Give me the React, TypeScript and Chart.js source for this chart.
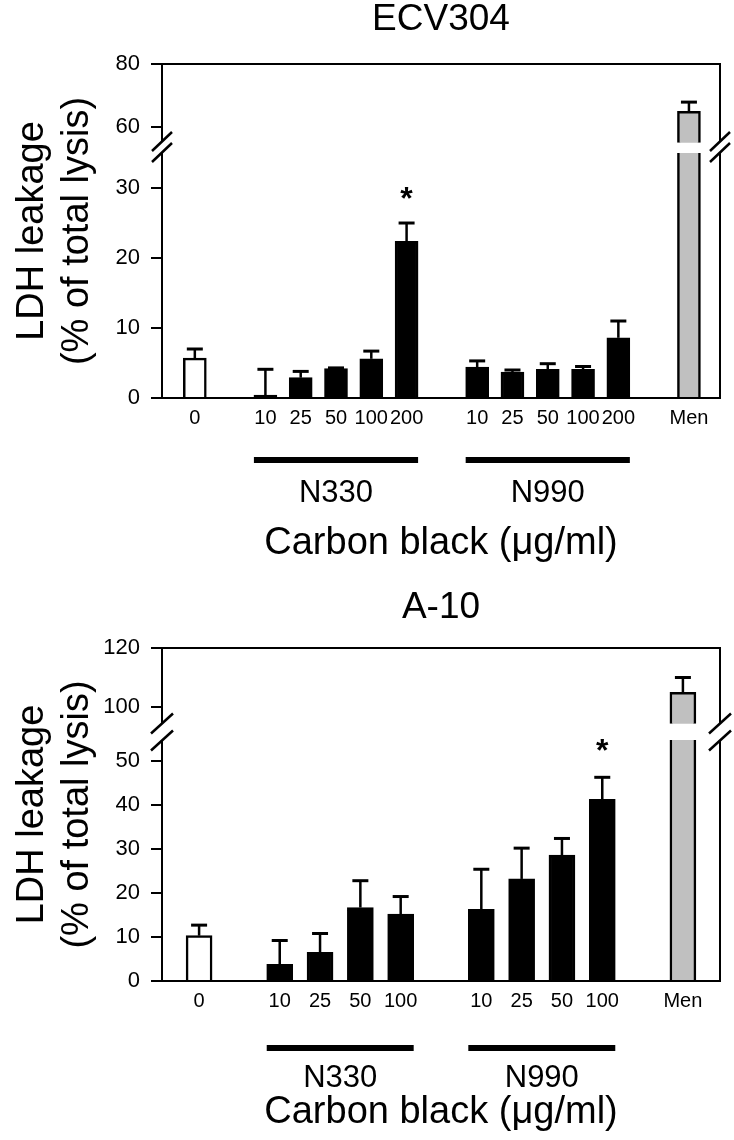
import React, { useEffect, useRef } from 'react';
import { Chart, registerables } from 'chart.js';

Chart.register(...registerables);

const FONT = '"Liberation Sans", Arial, Helvetica, sans-serif';
const GREY = '#c0c0c0';

// ---------------- Shared labels ----------------
const controlLabel = '0';
const menLabel = 'Men';
const groupNames = ['N330', 'N990'];
const xTitle = 'Carbon black (μg/ml)';
const yTitleLines = ['LDH leakage', '(% of total lysis)'];

// ---------------- ECV304 ----------------
const ecvTitle = 'ECV304';
const ecvDoses = ['10', '25', '50', '100', '200'];
const ecvControl = 5.7;
const ecvControlSem = 1.3;
const ecvN330 = [0.4, 2.9, 4.2, 5.6, 22.4];
const ecvN330Sem = [3.7, 0.9, 0.1, 1.1, 2.6];
const ecvN330Sig = [false, false, false, false, true];
const ecvN990 = [4.4, 3.7, 4.1, 4.1, 8.6];
const ecvN990Sem = [0.9, 0.3, 0.8, 0.4, 2.4];
const ecvN990Sig = [false, false, false, false, false];
const ecvMen = 65;
const ecvMenSem = 2.9;
const ecvLowerTicks = [0, 10, 20, 30];
const ecvUpperTicks = [60, 80];
const ecvLowerRange = [0, 35.86];
const ecvUpperRange = [53.65, 80];
const ecvBreakValues = [35.0, 55.0];

// ---------------- A-10 ----------------
const a10Title = 'A-10';
const a10Doses = ['10', '25', '50', '100'];
const a10Control = 10.3;
const a10ControlSem = 2.4;
const a10N330 = [3.8, 6.5, 16.7, 15.2];
const a10N330Sem = [5.4, 4.3, 6.1, 4.0];
const a10N330Sig = [false, false, false, false];
const a10N990 = [16.3, 23.2, 28.6, 41.3];
const a10N990Sem = [9.1, 7.0, 3.8, 5.0];
const a10N990Sig = [false, false, false, true];
const a10Men = 105;
const a10MenSem = 5;
const a10LowerTicks = [0, 10, 20, 30, 40, 50];
const a10UpperTicks = [100, 120];
const a10LowerRange = [0, 56.6];
const a10UpperRange = [91.5, 120];
const a10BreakValues = [54.8, 94.3];

const ecvSpec = {
  title: ecvTitle, doses: ecvDoses, control: ecvControl, controlSem: ecvControlSem,
  n330: ecvN330, n330Sem: ecvN330Sem, n330Sig: ecvN330Sig,
  n990: ecvN990, n990Sem: ecvN990Sem, n990Sig: ecvN990Sig,
  men: ecvMen, menSem: ecvMenSem, lowerTicks: ecvLowerTicks, upperTicks: ecvUpperTicks,
  lowerRange: ecvLowerRange, upperRange: ecvUpperRange, breakValues: ecvBreakValues,
};
const a10Spec = {
  title: a10Title, doses: a10Doses, control: a10Control, controlSem: a10ControlSem,
  n330: a10N330, n330Sem: a10N330Sem, n330Sig: a10N330Sig,
  n990: a10N990, n990Sem: a10N990Sem, n990Sig: a10N990Sig,
  men: a10Men, menSem: a10MenSem, lowerTicks: a10LowerTicks, upperTicks: a10UpperTicks,
  lowerRange: a10LowerRange, upperRange: a10UpperRange, breakValues: a10BreakValues,
};

// ---------------- Layout (pixels) ----------------
const ecvLayout = {
  height: 570, top: 64, boundary: 147, bottom: 398, left: 162, right: 720,
  titlePadTop: 1, xPadLeft: 0.93, xPadRight: 0.88, barThickness: 23,
  groupLineOffset: 62, groupLabelOffset: 95, xTitlePadBottom: 7, xTickPad: 8,
  breakGap: 11, breakDx: 10, breakDy: 9.5, capHalf: 8, starGap: 14,
};
const a10Layout = {
  height: 570, top: 78, boundary: 162, bottom: 411, left: 162, right: 720,
  titlePadTop: 19.5, xPadLeft: 0.92, xPadRight: 0.92, barThickness: 26,
  groupLineOffset: 67, groupLabelOffset: 97, xTitlePadBottom: 8, xTickPad: 8,
  breakGap: 17, breakDx: 11, breakDy: 10, capHalf: 8, starGap: 16,
};

const errorBarPlugin = {
  id: 'errorBars',
  afterDatasetsDraw(chart: any, _a: any, opts: any) {
    const ctx = chart.ctx;
    chart.data.datasets.forEach((ds: any, di: number) => {
      if (!ds.errors) return;
      const meta = chart.getDatasetMeta(di);
      const yScale = chart.scales[meta.yAxisID];
      meta.data.forEach((bar: any, i: number) => {
        const raw = ds.data[i];
        const v = Array.isArray(raw.y) ? raw.y[1] : raw.y;
        const e = ds.errors[i];
        const yv = yScale.getPixelForValue(v);
        const ye = yScale.getPixelForValue(v + e);
        ctx.save();
        ctx.strokeStyle = '#000';
        ctx.fillStyle = '#000';
        ctx.lineWidth = opts.lineWidth;
        ctx.beginPath();
        ctx.moveTo(bar.x, yv);
        ctx.lineTo(bar.x, ye);
        ctx.stroke();
        ctx.lineWidth = opts.capThickness;
        ctx.beginPath();
        ctx.moveTo(bar.x - opts.capHalf, ye);
        ctx.lineTo(bar.x + opts.capHalf, ye);
        ctx.stroke();
        if (ds.sig && ds.sig[i]) {
          ctx.font = `bold ${opts.starSize}px ${FONT}`;
          ctx.textAlign = 'center';
          ctx.textBaseline = 'alphabetic';
          ctx.fillText('*', bar.x, ye - opts.starGap);
        }
        ctx.restore();
      });
    });
  },
};

const frameBreakPlugin = {
  id: 'frameBreak',
  afterDraw(chart: any, _a: any, opts: any) {
    const { ctx, chartArea } = chart;
    const yb = chart.scales.y.top;
    ctx.save();
    ctx.strokeStyle = '#000';
    ctx.lineWidth = 2;
    ctx.beginPath();
    ctx.moveTo(chartArea.left, chartArea.top);
    ctx.lineTo(chartArea.right, chartArea.top);
    ctx.lineTo(chartArea.right, chartArea.bottom);
    ctx.stroke();
    const g = opts.gap / 2;
    const dx = opts.dx;
    const dy = opts.dy;
    for (const x of [chartArea.left, chartArea.right]) {
      ctx.fillStyle = '#fff';
      ctx.beginPath();
      ctx.moveTo(x - dx, yb - g + dy);
      ctx.lineTo(x + dx, yb - g - dy);
      ctx.lineTo(x + dx, yb + g - dy);
      ctx.lineTo(x - dx, yb + g + dy);
      ctx.closePath();
      ctx.fill();
      ctx.lineWidth = 2.5;
      ctx.beginPath();
      ctx.moveTo(x - dx, yb - g + dy);
      ctx.lineTo(x + dx, yb - g - dy);
      ctx.moveTo(x - dx, yb + g + dy);
      ctx.lineTo(x + dx, yb + g - dy);
      ctx.stroke();
    }
    ctx.restore();
  },
};

const groupPlugin = {
  id: 'groupLabels',
  afterDraw(chart: any, _a: any, opts: any) {
    const { ctx, chartArea } = chart;
    const xs = chart.scales.x;
    const base = chartArea.bottom;
    ctx.save();
    ctx.fillStyle = '#000';
    opts.groups.forEach((g: any) => {
      const x1 = xs.getPixelForValue(g.from) - opts.halfBar;
      const x2 = xs.getPixelForValue(g.to) + opts.halfBar;
      ctx.fillRect(x1, base + opts.lineOffset - opts.lineWidth / 2, x2 - x1, opts.lineWidth);
      ctx.font = `${opts.fontSize}px ${FONT}`;
      ctx.textAlign = 'center';
      ctx.textBaseline = 'middle';
      ctx.fillText(g.name, (x1 + x2) / 2, base + opts.labelOffset);
    });
    ctx.restore();
  },
};

const yTitlePlugin = {
  id: 'yTitle',
  afterDraw(chart: any, _a: any, opts: any) {
    const { ctx, chartArea } = chart;
    const cy = (chartArea.top + chartArea.bottom) / 2;
    ctx.save();
    ctx.fillStyle = '#000';
    ctx.font = `${opts.fontSize}px ${FONT}`;
    ctx.textAlign = 'center';
    ctx.textBaseline = 'alphabetic';
    opts.lines.forEach((t: string, i: number) => {
      ctx.save();
      ctx.translate(opts.baselines[i], cy);
      ctx.rotate(-Math.PI / 2);
      ctx.fillText(t, 0, 0);
      ctx.restore();
    });
    ctx.restore();
  },
};

function buildConfig(spec: any, L: any): any {
  const n = spec.doses.length;
  const posControl = 0;
  const posG1 = spec.doses.map((_: any, i: number) => 2 + i);
  const posG2 = spec.doses.map((_: any, i: number) => 3 + n + i);
  const posMen = 4 + 2 * n;
  const tickPositions = [posControl, ...posG1, ...posG2, posMen];
  const tickLabels = [controlLabel, ...spec.doses, ...spec.doses, menLabel];
  const labelAt = new Map(tickPositions.map((p, i) => [p, tickLabels[i]]));
  const [loBreak, hiBreak] = spec.breakValues;
  const BW = 2.5;

  const bar = (color: string) => ({
    backgroundColor: color,
    borderColor: '#000',
    borderWidth: BW,
    barThickness: L.barThickness,
    grouped: false,
  });

  const yCommon = (ticks: number[]) => ({
    type: 'linear',
    position: 'left',
    stack: 'v',
    beginAtZero: false,
    afterBuildTicks: (ax: any) => {
      ax.ticks = ticks.map((v) => ({ value: v }));
    },
    grid: { display: true, drawOnChartArea: false, drawTicks: true, tickLength: 11, color: '#000', lineWidth: 2 },
    border: { display: true, color: '#000', width: 2 },
    ticks: { padding: 11, color: '#000', font: { size: 22, family: FONT } },
    afterFit: (ax: any) => {
      ax.width = L.left;
    },
  });

  return {
    type: 'bar',
    data: {
      datasets: [
        { ...bar('#ffffff'), yAxisID: 'y', data: [{ x: posControl, y: spec.control }], errors: [spec.controlSem] },
        {
          ...bar('#000000'), yAxisID: 'y',
          data: posG1.map((x: number, i: number) => ({ x, y: spec.n330[i] })),
          errors: spec.n330Sem, sig: spec.n330Sig,
        },
        {
          ...bar('#000000'), yAxisID: 'y',
          data: posG2.map((x: number, i: number) => ({ x, y: spec.n990[i] })),
          errors: spec.n990Sem, sig: spec.n990Sig,
        },
        {
          ...bar(GREY), yAxisID: 'y', borderSkipped: false,
          borderWidth: { top: 0, bottom: 0, left: BW, right: BW },
          data: [{ x: posMen, y: Math.min(spec.men, loBreak) }],
        },
        {
          ...bar(GREY), yAxisID: 'yTop', borderSkipped: false,
          borderWidth: { top: BW, bottom: 0, left: BW, right: BW },
          data: [{ x: posMen, y: [hiBreak, spec.men] }], errors: [spec.menSem],
        },
      ],
    },
    options: {
      responsive: false,
      devicePixelRatio: 1,
      animation: false,
      events: [],
      layout: { padding: { left: 0, right: 734 - L.right, top: 0, bottom: 0 } },
      scales: {
        x: {
          type: 'linear',
          min: posControl - L.xPadLeft,
          max: posMen + L.xPadRight,
          offset: false,
          grid: { display: false, drawTicks: false, offset: false },
          border: { display: true, color: '#000', width: 2 },
          afterBuildTicks: (ax: any) => {
            ax.ticks = tickPositions.map((v) => ({ value: v }));
          },
          ticks: {
            autoSkip: false, maxRotation: 0, minRotation: 0, padding: L.xTickPad, color: '#000',
            font: { size: 20, family: FONT },
            callback: (v: any) => labelAt.get(v) ?? '',
          },
          title: {
            display: true, text: xTitle, color: '#000',
            font: { size: 38, family: FONT, lineHeight: 1 },
            padding: { top: 0, bottom: L.xTitlePadBottom },
          },
          afterFit: (ax: any) => {
            ax.height = L.height - L.bottom;
          },
        },
        y: {
          ...yCommon(spec.lowerTicks),
          min: spec.lowerRange[0], max: spec.lowerRange[1],
          stackWeight: L.bottom - L.boundary,
        },
        yTop: {
          ...yCommon(spec.upperTicks),
          min: spec.upperRange[0], max: spec.upperRange[1],
          stackWeight: L.boundary - L.top,
        },
      },
      plugins: {
        legend: { display: false },
        tooltip: { enabled: false },
        title: {
          display: true, text: spec.title, color: '#000', fullSize: false,
          font: { size: 37, family: FONT, weight: 'normal', lineHeight: 1 },
          padding: { top: L.titlePadTop, bottom: L.top - 37 - L.titlePadTop },
        },
        errorBars: { lineWidth: 2.5, capThickness: 3, capHalf: L.capHalf, starSize: 32, starGap: L.starGap },
        frameBreak: { gap: L.breakGap, dx: L.breakDx, dy: L.breakDy },
        groupLabels: {
          groups: [
            { name: groupNames[0], from: posG1[0], to: posG1[n - 1] },
            { name: groupNames[1], from: posG2[0], to: posG2[n - 1] },
          ],
          halfBar: L.barThickness / 2, lineOffset: L.groupLineOffset, lineWidth: 6,
          labelOffset: L.groupLabelOffset, fontSize: 31,
        },
        yTitle: { lines: yTitleLines, baselines: [43, 88], fontSize: 38 },
      },
    },
    plugins: [errorBarPlugin, frameBreakPlugin, groupPlugin, yTitlePlugin],
  };
}

function BrokenBarChart({ spec, layout }: { spec: any; layout: any }) {
  const ref = useRef<HTMLCanvasElement>(null);
  useEffect(() => {
    const chart = new Chart(ref.current as HTMLCanvasElement, buildConfig(spec, layout));
    return () => chart.destroy();
  }, [spec, layout]);
  return (
    <canvas
      ref={ref}
      width={734}
      height={layout.height}
      style={{ display: 'block', width: 734, height: layout.height }}
    />
  );
}

export default function App() {
  return (
    <div style={{ position: 'absolute', left: 0, top: 0, width: 734, height: 1140, background: '#fff' }}>
      <BrokenBarChart spec={ecvSpec} layout={ecvLayout} />
      <BrokenBarChart spec={a10Spec} layout={a10Layout} />
    </div>
  );
}
